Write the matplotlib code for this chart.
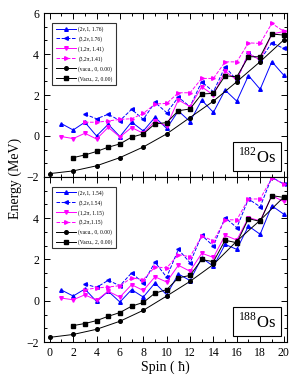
import numpy as np
import matplotlib.pyplot as plt
from matplotlib.ticker import MultipleLocator

plt.rcParams['font.family'] = ['Liberation Serif', 'DejaVu Serif']
plt.rcParams['mathtext.fontset'] = 'custom'
plt.rcParams['mathtext.rm'] = 'Liberation Serif'

spin_odd = np.arange(1, 21)
spin_3 = np.arange(3, 21)
spin_even = np.arange(0, 21, 2)
spin_vac2 = np.arange(2, 21)

# 182Os
os182_nu1 = [0.60, 0.29, 0.67, 0.00, 0.57, -0.03, 0.68, 0.24, 0.91, 0.37,
             1.22, 0.70, 1.75, 1.15, 2.24, 1.70, 2.95, 2.28, 3.63, 2.98]
os182_nu3 = [1.06, 0.84, 1.06, 0.75, 1.30, 0.81, 1.64, 1.14, 1.89, 1.43,
             2.65, 2.16, 3.38, 2.73, 4.03, 3.71, 4.55, 4.28]
os182_pi1 = [-0.03, -0.13, 0.13, -0.15, 0.42, -0.05, 0.41, 0.13, 0.73, 0.49,
             1.76, 1.43, 2.40, 2.00, 3.17, 2.73, 4.03, 3.71, 4.98, 5.10]
os182_pi3 = [0.67, 0.67, 0.73, 0.81, 0.84, 1.10, 1.56, 1.59, 2.11, 2.11,
             2.81, 2.81, 3.62, 3.62, 4.55, 4.52, 5.50, 5.12]
os182_vac0 = [-1.84, -1.71, -1.46, -1.06, -0.54, 0.10, 0.90, 1.70, 2.65, 3.63, 4.68]
os182_vac2 = [-1.06, -0.93, -0.76, -0.55, -0.39, -0.06, 0.10, 0.59, 0.65, 1.23,
              1.32, 2.05, 2.08, 2.94, 2.89, 3.87, 3.87, 4.98, 4.93]

# 188Os
os188_nu1 = [0.52, 0.23, 0.57, -0.03, 0.46, -0.06, 0.54, 0.18, 0.86, 0.29,
             1.30, 0.98, 2.08, 1.67, 2.73, 2.49, 3.62, 3.22, 4.60, 4.20]
os188_nu3 = [0.81, 0.65, 0.99, 0.73, 1.35, 0.86, 1.87, 1.14, 2.49, 1.84,
             3.17, 2.65, 4.03, 3.54, 4.93, 4.55, 5.98, 5.66]
os188_pi1 = [0.13, 0.05, 0.29, 0.03, 0.46, 0.18, 0.78, 0.50, 1.16, 0.91,
             1.72, 1.43, 2.30, 2.10, 3.17, 2.94, 4.03, 3.87, 5.09, 4.81]
os188_pi3 = [0.54, 0.62, 0.67, 0.73, 1.11, 1.02, 1.64, 1.59, 2.24, 2.13,
             3.14, 2.90, 3.92, 3.92, 4.93, 4.93, 5.95, 5.66]
os188_vac0 = [-1.77, -1.63, -1.38, -0.99, -0.46, 0.23, 0.94, 1.76, 2.89, 3.90, 5.01]
os188_vac2 = [-1.20, -1.10, -0.96, -0.75, -0.57, -0.26, -0.08, 0.37, 0.54, 1.11,
              1.23, 2.00, 1.89, 2.93, 2.81, 3.98, 3.84, 5.09, 5.01]

labels_182 = ['(2\u03bd,1, 1.76)', '(3,2\u03bd,1.76)', '(1,2\u03c0, 1.41)',
              '(3,2\u03c0,1.41)', '(vacu., 0, 0.00)', '(Vacu., 2, 0.00)']
labels_188 = ['(2\u03bd,1, 1.54)', '(3,2\u03bd,1.54)', '(1,2\u03c0, 1.15)',
              '(3,2\u03c0,1.15)', '(vacu., 0, 0.00)', '(Vacu., 2, 0.00)']

fig = plt.figure(figsize=(2.99, 3.87), dpi=100)
ax1 = fig.add_axes([0.147, 0.543, 0.813, 0.423])
ax2 = fig.add_axes([0.147, 0.116, 0.813, 0.427])


def draw(ax, nu1, nu3, pi1, pi3, vac0, vac2, labels, nucleus):
    lw = 0.7
    ms = 2.6
    ax.plot(spin_odd, nu1, '-', color='#0000ff', marker='^', lw=lw, ms=ms, label=labels[0])
    ax.plot(spin_3, nu3, '--', color='#0000ff', marker='<', lw=lw, ms=ms, label=labels[1])
    ax.plot(spin_odd, pi1, '-', color='#ff00ff', marker='v', lw=lw, ms=ms, label=labels[2])
    ax.plot(spin_3, pi3, '--', color='#ff00ff', marker='>', lw=lw, ms=ms, label=labels[3])
    ax.plot(spin_even, vac0, '-', color='k', marker='o', lw=lw, ms=ms, label=labels[4])
    ax.plot(spin_vac2, vac2, '-', color='k', marker='s', lw=lw, ms=ms, label=labels[5])
    ax.set_xlim(-0.5, 20.3)
    ax.set_ylim(-2, 6)
    ax.xaxis.set_major_locator(MultipleLocator(2))
    ax.xaxis.set_minor_locator(MultipleLocator(1))
    ax.yaxis.set_major_locator(MultipleLocator(2))
    ax.yaxis.set_minor_locator(MultipleLocator(2 / 3))
    ax.tick_params(which='both', direction='in', top=True, right=True, labelsize=8.5,
                   width=0.7)
    ax.tick_params(which='major', length=4)
    ax.tick_params(which='minor', length=2)
    for s in ax.spines.values():
        s.set_linewidth(0.8)
    leg = ax.legend(loc='upper left', bbox_to_anchor=(0.035, 0.94), fontsize=4.0,
                    frameon=True, fancybox=False, edgecolor='k', handlelength=3.6,
                    labelspacing=0.75, borderpad=0.55, handletextpad=0.5,
                    borderaxespad=0)
    leg.get_frame().set_linewidth(0.8)
    ax.text(0.955, 0.065, nucleus, transform=ax.transAxes, ha='right', va='bottom',
            fontsize=12, bbox=dict(boxstyle='square,pad=0.28', fc='white', ec='k', lw=0.8))


draw(ax1, os182_nu1, os182_nu3, os182_pi1, os182_pi3, os182_vac0, os182_vac2,
     labels_182, '$^{182}$Os')
draw(ax2, os188_nu1, os188_nu3, os188_pi1, os188_pi3, os188_vac0, os188_vac2,
     labels_188, '$^{188}$Os')

ax1.tick_params(labelbottom=False)
ax2.set_yticks([-2, 0, 2, 4])
ax2.set_xlabel('Spin ( \u0127)', fontsize=10, labelpad=1)
fig.text(0.05, 0.54, 'Energy (MeV)', rotation=90, ha='center', va='center', fontsize=10)

fig.savefig('out.png', dpi=100)
